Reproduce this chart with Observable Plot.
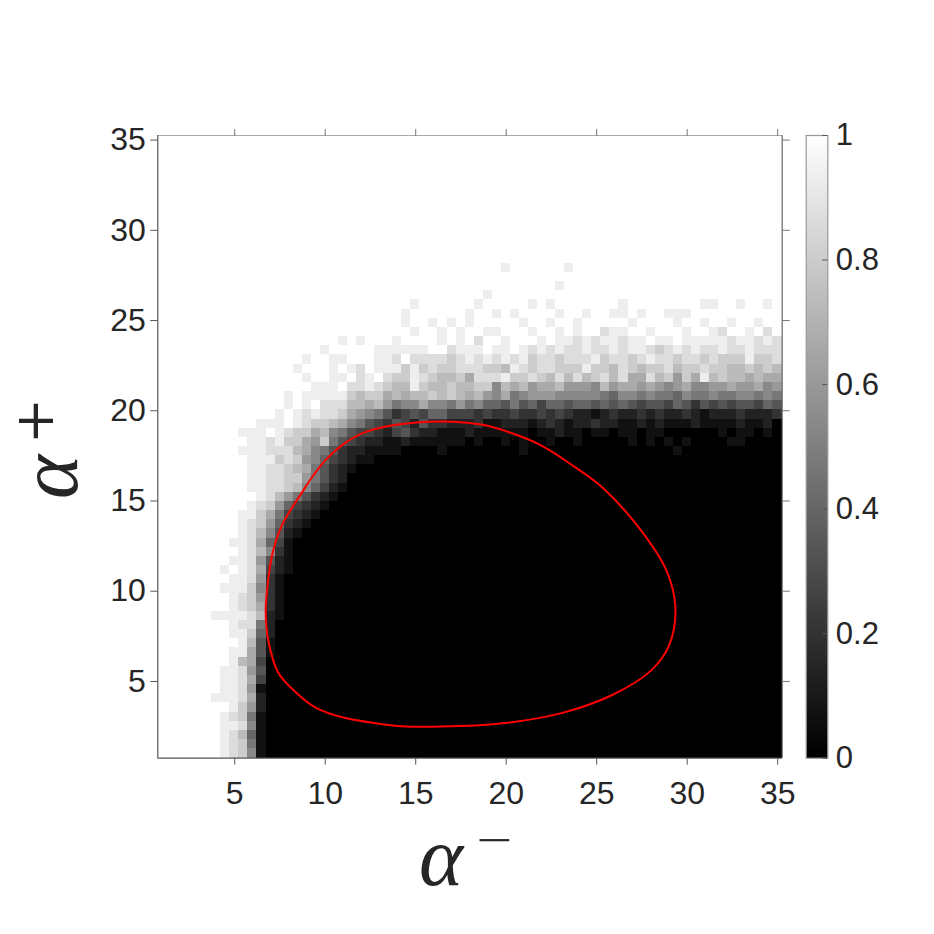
<!DOCTYPE html>
<html><head><meta charset="utf-8">
<script src="https://cdn.jsdelivr.net/npm/d3@7"></script>
<script src="https://cdn.jsdelivr.net/npm/@observablehq/plot@0.6"></script>
<style>
body{margin:0;background:#fff;}
#wrap{position:relative;width:934px;height:934px;overflow:hidden;}
#wrap svg{position:absolute;left:0;top:0;}
</style>
</head><body><div id="wrap"></div>
<script>
// ---- data ----
const xTicks = [5, 10, 15, 20, 25, 30, 35];
const yTicks = [5, 10, 15, 20, 25, 30, 35];
const cbTicks = [0, 0.2, 0.4, 0.6, 0.8, 1];
const xRange = [1, 35];   // grid centres, alpha^-
const yRange = [1, 35];   // grid centres, alpha^+
const nCols = 69, nRows = 68;
// heat-map values, one string per row from top (alpha^+ = 35) to bottom (alpha^+ = 1)
// hex digit d -> value d/15 (f = 1 white, 0 = black); spaces only separate groups
const gridRows = [
"fffffffffffffffffffffff fffffffffffffffffffffff fffffffffffffffffffffff",
"fffffffffffffffffffffff fffffffffffffffffffffff fffffffffffffffffffffff",
"fffffffffffffffffffffff fffffffffffffffffffffff fffffffffffffffffffffff",
"fffffffffffffffffffffff fffffffffffffffffffffff fffffffffffffffffffffff",
"fffffffffffffffffffffff fffffffffffffffffffffff fffffffffffffffffffffff",
"fffffffffffffffffffffff fffffffffffffffffffffff fffffffffffffffffffffff",
"fffffffffffffffffffffff fffffffffffffffffffffff fffffffffffffffffffffff",
"fffffffffffffffffffffff fffffffffffffffffffffff fffffffffffffffffffffff",
"fffffffffffffffffffffff fffffffffffffffffffffff fffffffffffffffffffffff",
"fffffffffffffffffffffff fffffffffffffffffffffff fffffffffffffffffffffff",
"fffffffffffffffffffffff fffffffffffffffffffffff fffffffffffffffffffffff",
"fffffffffffffffffffffff fffffffffffffffffffffff fffffffffffffffffffffff",
"fffffffffffffffffffffff fffffffffffffffffffffff fffffffffffffffffffffff",
"fffffffffffffffffffffff fffffffffffffffffffffff fffffffffffffffffffffff",
"fffff fffffffffffffffffffff ffffffffffffeffffffe fffffffffffffffffffffff",
"fffffffffffffffffffffff fffffffffffffffffffffff fffffffffffffffffffffff",
"fffff fffffffffffffffffffff ffffffffffffffffffef fffffffffffffffffffffff",
"fffff fffffffffffffffffffff ffffffffffefffffffff fffffffffffffffffffffff",
"fffff fffffffffffffffffffff ffeffffffefffffefeff fffffeffffffffeeffeffef",
"fffff fffffffffffffffffffff feffffffeffefeffffef feffeefeffeeeffffffffff",
"fffff fffffffffffffffffffff feffefefefffffeffeff efffffeffffeffeffeffeff",
"fffff fffffffffffffffffffff ffeffefeffeefffeffef effdeeffefffeffedffefdf",
"fffff fffffffffffffffefefff effffefefdffefffefee dedeedeefeefeeeeedeeded",
"fffff fffffffffffffefffffee eeeeffdeeefeefededed deddedeedcdededdeddeddd",
"fffff fffffffffffeffeefffee dfddddcdedededecddcd ddecddcdeddcddcdccceccd",
"fffff ffffffffffefffefedfee ececdccdddccbedcddcc ceccbdcbccdbccdccbbcbcb",
"fffff fffffffffffeffeefdefd ccedcbbcadddeccdcbdb dbcdbdaadbc9caebcbbabaa",
"fffff ffffffffffffeeefddedc bbecbbcbbcc8bab9aab9 998b9aa9a989a8899a99a89",
"fffff fffffffffefeeeeecbcca babbcbcbab98a7899988 88876887877687787788787",
"fffff fffffffffefefdddbbab9 788a8879786657564665 66565654554653545455465",
"fffff ffffffffefededdca9875 34546644434334334343 22123223232232122232223",
"fffff ffffffeeefedccba87543 54253322231122212321 22322112121112111121120",
"fffff ffffeeefedccab8754432 45322111211111101121 10110110110000001011010",
"fffff fffffeedecca9c7543221 12111111010010100100 10000010101010000110000",
"fffff ffffeeedddba875322111 10000100000000100000 00000000000100000000000",
"fffff fffffeeecdc9864321100 00000000000000000000 00000000000000000000000",
"fffff fffffeeddcba753210000 00000000000000000000 00000000000000000000000",
"fffff fffffeeddcc9753200000 00000000000000000000 00000000000000000000000",
"fffff fffffeeddcb8642100000 00000000000000000000 00000000000000000000000",
"fffffffffffedb975321000 00000000000000000000000 00000000000000000000000",
"ffffffffffedc9643210000 00000000000000000000000 00000000000000000000000",
"fffffffffeeca7432100000 00000000000000000000000 00000000000000000000000",
"fffffffffedc96321000000 00000000000000000000000 00000000000000000000000",
"fffffffffedb85210000000 00000000000000000000000 00000000000000000000000",
"ffffffffeeda64100000000 00000000000000000000000 00000000000000000000000",
"fffffffffedb83100000000 00000000000000000000000 00000000000000000000000",
"ffffffffeed952100000000 00000000000000000000000 00000000000000000000000",
"fffffffefeda42100000000 00000000000000000000000 00000000000000000000000",
"ffffffffeed931000000000 00000000000000000000000 00000000000000000000000",
"fffffffeeec831000000000 00000000000000000000000 00000000000000000000000",
"ffffffffedc931000000000 00000000000000000000000 00000000000000000000000",
"ffffffffedca31000000000 00000000000000000000000 00000000000000000000000",
"ffffffeeeedb21000000000 00000000000000000000000 00000000000000000000000",
"ffffffffedd720000000000 00000000000000000000000 00000000000000000000000",
"ffffffffeec620000000000 00000000000000000000000 00000000000000000000000",
"fffffffffeb510000000000 00000000000000000000000 00000000000000000000000",
"ffffffffeea510000000000 00000000000000000000000 00000000000000000000000",
"ffffffffeba400000000000 00000000000000000000000 00000000000000000000000",
"fffffffeed9500000000000 00000000000000000000000 00000000000000000000000",
"fffffffeeda400000000000 00000000000000000000000 00000000000000000000000",
"fffffffeed9100000000000 00000000000000000000000 00000000000000000000000",
"ffffffeeeda200000000000 00000000000000000000000 00000000000000000000000",
"ffffffffec9200000000000 00000000000000000000000 00000000000000000000000",
"fffffffedc7100000000000 00000000000000000000000 00000000000000000000000",
"fffffffeed8100000000000 00000000000000000000000 00000000000000000000000",
"fffffffedb6100000000000 00000000000000000000000 00000000000000000000000",
"fffffffedc7100000000000 00000000000000000000000 00000000000000000000000",
"fffffffedc8100000000000 00000000000000000000000 00000000000000000000000"
];
// red contour (alpha^-, alpha^+)
const curveX = [16.5, 13.73, 12.07, 10.97, 10.04, 9.31, 8.8, 7.63, 7.08, 6.8, 6.71, 6.85, 7.4, 8.37, 9.47, 11.0, 12.9, 14.2, 16.4, 19.7, 23.0, 25.8, 28.0, 29.0, 29.35, 28.86, 27.47, 25.4, 23.74, 22.03, 20.55, 18.71];
const curveY = [19.41, 19.2, 18.76, 18.12, 17.29, 16.37, 15.6, 13.7, 12.06, 10.2, 8.9, 7.3, 5.5, 4.4, 3.55, 3.0, 2.67, 2.52, 2.5, 2.67, 3.23, 4.22, 5.6, 7.0, 9.08, 11.13, 13.34, 15.67, 16.92, 18.03, 18.67, 19.22];

// ---- build tables ----
if (gridRows.length !== nRows) throw new Error("rows: " + gridRows.length);
const dx = (xRange[1] - xRange[0]) / (nCols - 1);
const dy = (yRange[1] - yRange[0]) / (nRows - 1);
const cells = [];
gridRows.forEach((s, r) => {
  const row = s.replace(/ /g, "");
  if (row.length !== nCols) throw new Error("row " + r + " has length " + row.length);
  for (let c = 0; c < nCols; c++) {
    const xc = xRange[0] + c * dx, yc = yRange[1] - r * dy;
    cells.push({x1: xc - dx / 2, x2: xc + dx / 2, y1: yc - dy / 2, y2: yc + dy / 2, v: parseInt(row[c], 16) / 15});
  }
});
const curve = curveX.map((x, i) => ({x, y: curveY[i]}));
const xDom = [xRange[0] - dx / 2, xRange[1] + dx / 2];
const yDom = [yRange[0] - dy / 2, yRange[1] + dy / 2];

const W = 934, H = 934;
const L = 157.3, T = 135, R = 781.7, B = 757.7;
const colorOpt = {type: "linear", domain: [0, 1], range: ["#000000", "#ffffff"], interpolate: "rgb"};
const font = "'Liberation Sans', Arial, Helvetica, sans-serif";
const ink = "#262626";

const main = Plot.plot({
  width: W, height: H,
  marginLeft: L, marginTop: T, marginRight: W - R, marginBottom: H - B,
  x: {domain: xDom, label: null},
  y: {domain: yDom, label: null},
  color: colorOpt,
  style: {fontFamily: font, fontSize: "32px", color: ink, background: "#ffffff"},
  marks: [
    Plot.rect(cells, {x1: "x1", x2: "x2", y1: "y1", y2: "y2", fill: "v", inset: -0.35, shapeRendering: "crispEdges"}),
    Plot.line(curve, {x: "x", y: "y", stroke: "#ff0000", strokeWidth: 2, curve: "catmull-rom-closed"}),
    Plot.ruleY([yDom[1]], {stroke: "#aaaaaa", strokeWidth: 1.2}),
    Plot.ruleY([yDom[0]], {stroke: "#555555", strokeWidth: 1.2}),
    Plot.ruleX([xDom[0]], {stroke: "#555555", strokeWidth: 1.2}),
    Plot.ruleX([xDom[1]], {stroke: "#666666", strokeWidth: 1.2}),
    Plot.axisX({anchor: "bottom", ticks: xTicks, tickSize: 7, tickPadding: 16, tickFormat: d => String(d), label: null, stroke: "#555555", fontSize: 32}),
    Plot.axisX({anchor: "top", ticks: xTicks, tickSize: 7, tickFormat: () => "", label: null, stroke: "#777777"}),
    Plot.axisY({anchor: "left", ticks: yTicks, tickSize: 7, tickPadding: 5, tickFormat: d => String(d), label: null, stroke: "#555555", fontSize: 32}),
    Plot.axisY({anchor: "right", ticks: yTicks, tickSize: 7, tickFormat: () => "", label: null, stroke: "#777777"})
  ]
});

const CBL = 805.7, CBR = 827.3;
const cb = Plot.plot({
  width: W, height: H,
  marginLeft: CBL, marginTop: T, marginRight: W - CBR, marginBottom: H - B,
  x: {domain: [0, 1], axis: null},
  y: {domain: [0, 1], label: null},
  color: colorOpt,
  style: {fontFamily: font, fontSize: "31px", color: ink, background: "transparent"},
  marks: [
    Plot.raster({x1: 0, x2: 1, y1: 0, y2: 1, width: 1, height: 256, fill: (x, y) => y}),
    Plot.frame({stroke: "#999999", strokeWidth: 1.2}),
    Plot.ruleY(cbTicks, {x1: 0.76, x2: 1, stroke: "#555555"}),
    Plot.axisY({anchor: "right", ticks: cbTicks, tickSize: 0, tickPadding: 8, tickFormat: d => String(d), label: null, fontSize: 31})
  ]
});

const wrap = document.getElementById("wrap");
wrap.appendChild(main);
wrap.appendChild(cb);

// axis titles (alpha^- and alpha^+)
const svg = d3.select(main);
const serif = "'Liberation Serif', 'DejaVu Serif', 'Times New Roman', serif";
svg.append("text").attr("x", 441).attr("y", 885)
  .attr("font-family", serif).attr("font-style", "italic").attr("font-size", 84).attr("fill", ink).text("α");
svg.append("text").attr("transform", "translate(494.5,855) scale(1.45,1)").attr("text-anchor", "middle")
  .attr("font-family", serif).attr("font-size", 44).attr("fill", ink).text("−");
svg.append("text").attr("transform", "translate(77,477) rotate(-90)")
  .attr("font-family", serif).attr("font-style", "italic").attr("font-size", 84).attr("fill", ink).text("α");
svg.append("text").attr("transform", "translate(53,421) rotate(-90)").attr("text-anchor", "middle")
  .attr("font-family", "'DejaVu Serif', serif").attr("font-size", 55).attr("fill", ink).text("+");
</script>
</body></html>
